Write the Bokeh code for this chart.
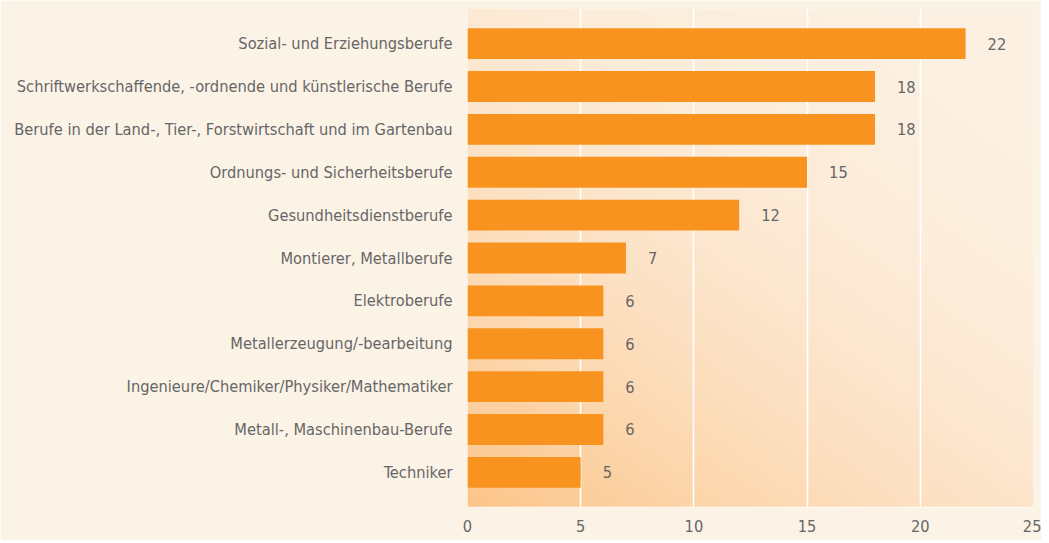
import numpy as np
from bokeh.plotting import figure
from bokeh.models import ColumnDataSource, FixedTicker, Span, LabelSet
from bokeh.core.properties import value
from bokeh.embed import file_html
from bokeh.resources import INLINE

categories = [
    "Sozial- und Erziehungsberufe",
    "Schriftwerkschaffende, -ordnende und künstlerische Berufe",
    "Berufe in der Land-, Tier-, Forstwirtschaft und im Gartenbau",
    "Ordnungs- und Sicherheitsberufe",
    "Gesundheitsdienstberufe",
    "Montierer, Metallberufe",
    "Elektroberufe",
    "Metallerzeugung/-bearbeitung",
    "Ingenieure/Chemiker/Physiker/Mathematiker",
    "Metall-, Maschinenbau-Berufe",
    "Techniker",
]
values = [22, 18, 18, 15, 12, 7, 6, 6, 6, 6, 5]
x_ticks = [0, 5, 10, 15, 20, 25]

FONT = "DejaVu Sans Condensed"
TXT = "#666666"
BG = "#fcf3e7"
BAR = "#f7931e"

n = len(categories)
ypos = [n - 1 - i for i in range(n)]
y_lo, y_hi = -0.82, n - 1 + 0.82

p = figure(width=1041, height=540, output_backend="svg", toolbar_location=None,
           x_range=(0, 25), y_range=(y_lo, y_hi),
           min_border_left=467, min_border_right=8, min_border_top=8, min_border_bottom=33)
p.background_fill_color = BG
p.border_fill_color = BG
p.outline_line_color = None

# gradient background for plot area (darkest at bottom-left)
H, W = 100, 200
yy, xx = np.mgrid[0:H, 0:W]
xn = xx / (W - 1)
yn = yy / (H - 1)
s = 0.45 * (1 - xn) + 0.55 * (1 - yn)
t = np.clip(s, 0, 1) ** 2.2
light = np.array([0xfd, 0xf1, 0xe3])
dark = np.array([0xfc, 0xc5, 0x89])
rgb = light[None, None, :] * (1 - t[..., None]) + dark[None, None, :] * t[..., None]
img = np.empty((H, W), dtype=np.uint32)
view = img.view(dtype=np.uint8).reshape((H, W, 4))
view[..., 0] = rgb[..., 0].astype(np.uint8)
view[..., 1] = rgb[..., 1].astype(np.uint8)
view[..., 2] = rgb[..., 2].astype(np.uint8)
view[..., 3] = 255
p.image_rgba(image=[img], x=0, y=y_lo, dw=25, dh=y_hi - y_lo, level="image")

p.xgrid.ticker = FixedTicker(ticks=x_ticks)
p.xgrid.grid_line_color = "white"
p.xgrid.grid_line_width = 1.6
p.xgrid.level = "underlay"
p.ygrid.grid_line_color = None
p.add_layout(Span(location=y_lo, dimension="width", line_color="white", line_width=1.6, level="underlay"))

src = ColumnDataSource(dict(y=ypos, v=values, lab=[str(v) for v in values]))
p.hbar(y="y", right="v", left=0, height=0.72, source=src, fill_color=BAR, line_color=None)

labels = LabelSet(x="v", y="y", text="lab", source=src, x_offset=22, text_align="left",
                  text_baseline="middle", text_color=TXT, text_font=value(FONT),
                  text_font_size="16.3px")
p.add_layout(labels)

p.yaxis.ticker = FixedTicker(ticks=ypos)
p.yaxis.major_label_overrides = {y: c for y, c in zip(ypos, categories)}
p.xaxis.ticker = FixedTicker(ticks=x_ticks)
for ax in (p.xaxis, p.yaxis):
    ax.axis_line_color = None
    ax.major_tick_line_color = None
    ax.minor_tick_line_color = None
    ax.major_label_text_color = TXT
    ax.major_label_text_font = FONT
    ax.major_label_text_font_size = "16.3px"
p.yaxis.major_label_standoff = 9
p.xaxis.major_label_standoff = 6

open("out.html", "w").write(file_html(p, INLINE))
